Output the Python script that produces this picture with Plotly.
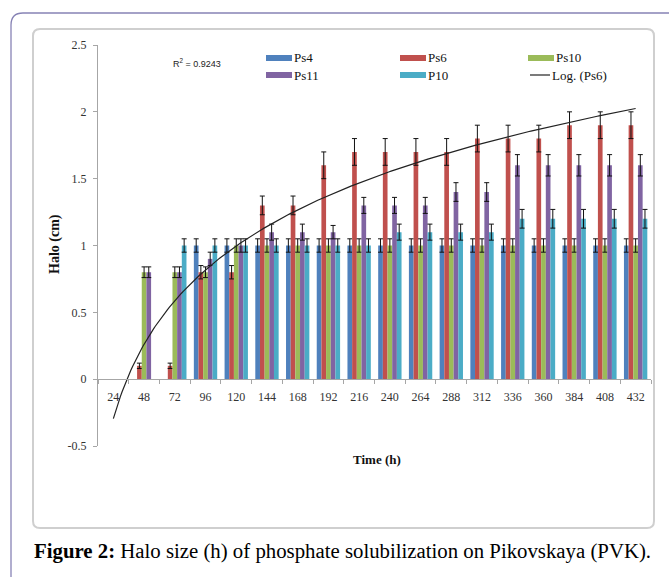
import numpy as np
import plotly.graph_objects as go

# ---------------- data ----------------
times = [24, 48, 72, 96, 120, 144, 168, 192, 216, 240, 264, 288, 312, 336, 360, 384, 408, 432]
ps4 = [0, 0, 0, 1.0, 1.0, 1.0, 1.0, 1.0, 1.0, 1.0, 1.0, 1.0, 1.0, 1.0, 1.0, 1.0, 1.0, 1.0]
ps6 = [0, 0.1, 0.1, 0.8, 0.8, 1.3, 1.3, 1.6, 1.7, 1.7, 1.7, 1.7, 1.8, 1.8, 1.8, 1.9, 1.9, 1.9]
ps10 = [0, 0.8, 0.8, 0.8, 1.0, 1.0, 1.0, 1.0, 1.0, 1.0, 1.0, 1.0, 1.0, 1.0, 1.0, 1.0, 1.0, 1.0]
ps11 = [0, 0.8, 0.8, 0.9, 1.0, 1.1, 1.1, 1.1, 1.3, 1.3, 1.3, 1.4, 1.4, 1.6, 1.6, 1.6, 1.6, 1.6]
p10 = [0, 0, 1.0, 1.0, 1.0, 1.0, 1.0, 1.0, 1.0, 1.1, 1.1, 1.1, 1.1, 1.2, 1.2, 1.2, 1.2, 1.2]

ps4_err = [0, 0, 0, 0.05, 0.05, 0.05, 0.05, 0.05, 0.05, 0.05, 0.05, 0.05, 0.05, 0.05, 0.05, 0.05, 0.05, 0.05]
ps6_err = [0, 0.02, 0.02, 0.05, 0.05, 0.07, 0.07, 0.1, 0.1, 0.1, 0.1, 0.1, 0.1, 0.1, 0.1, 0.1, 0.1, 0.1]
ps10_err = [0, 0.04, 0.04, 0.04, 0.05, 0.05, 0.05, 0.05, 0.05, 0.05, 0.05, 0.05, 0.05, 0.05, 0.05, 0.05, 0.05, 0.05]
ps11_err = [0, 0.04, 0.04, 0.05, 0.05, 0.06, 0.06, 0.05, 0.06, 0.06, 0.06, 0.07, 0.07, 0.08, 0.08, 0.08, 0.08, 0.08]
p10_err = [0, 0, 0.05, 0.05, 0.05, 0.05, 0.05, 0.05, 0.05, 0.06, 0.06, 0.06, 0.06, 0.07, 0.07, 0.07, 0.07, 0.07]

series_names = ["Ps4", "Ps6", "Ps10", "Ps11", "P10"]
series_vals = [ps4, ps6, ps10, ps11, p10]
series_errs = [ps4_err, ps6_err, ps10_err, ps11_err, p10_err]
colors = ["#4F81BD", "#C0504D", "#9BBB59", "#8064A2", "#4BACC6"]
trend_name = "Log. (Ps6)"
r2_text = "R<sup>2</sup> = 0.9243"
y_ticks = [-0.5, 0, 0.5, 1, 1.5, 2, 2.5]
y_ticktext = ["-0.5", "0", "0.5", "1", "1.5", "2", "2.5"]

# ---------------- geometry helpers (layout only) ----------------
W, H = 669, 577
L, R, T, B = 98, 651, 45, 446


def px(x):
    return (x - L) / (R - L)


def py(y):
    return (B - y) / (B - T)


def P(x, y):
    return f"{px(x):.5f},{py(y):.5f}"


serif = "Liberation Serif"
idx = np.arange(len(times))

fig = go.Figure()
for name, vals, errs, c in zip(series_names, series_vals, series_errs, colors):
    # zero-height bars are left out so that no error cap is drawn on the axis
    yv = [v if v > 0 else None for v in vals]
    fig.add_trace(go.Bar(
        x=idx, y=yv, name=name, marker=dict(color=c, line=dict(width=0)),
        error_y=dict(type="data", array=errs, visible=True, color="#111111",
                     thickness=1, width=2.5),
        showlegend=False, hoverinfo="skip"))

# logarithmic trendline fitted to Ps6 (as Excel does)
t_num = np.arange(1, len(times) + 1)
a, b = np.polyfit(np.log(t_num), np.array(ps6), 1)
xs = np.linspace(1, len(times), 300)
fig.add_trace(go.Scatter(x=xs - 1, y=a * np.log(xs) + b, mode="lines",
                         name=trend_name, line=dict(color="#222222", width=1.2),
                         showlegend=False, hoverinfo="skip"))

# ---------------- frames ----------------
r = 7
x0, y0, x1, y1 = 33, 29, 654, 528
frame = (f"M {P(x0 + r, y0)} L {P(x1 - r, y0)} Q {P(x1, y0)} {P(x1, y0 + r)} "
         f"L {P(x1, y1 - r)} Q {P(x1, y1)} {P(x1 - r, y1)} L {P(x0 + r, y1)} "
         f"Q {P(x0, y1)} {P(x0, y1 - r)} L {P(x0, y0 + r)} Q {P(x0, y0)} {P(x0 + r, y0)} Z")
outer = f"M {P(11, 600)} L {P(11, 25)} Q {P(11, 13)} {P(23, 13)} L {P(700, 13)}"

shapes = [
    dict(type="path", xref="paper", yref="paper", path=frame,
         line=dict(color="#CFCFCF", width=2), layer="below"),
    dict(type="path", xref="paper", yref="paper", path=outer,
         line=dict(color="#8783B5", width=1.3), layer="below"),
]

# ---------------- legend (3 columns x 2 rows) ----------------
col_x = [266, 400, 528]
row_y = [58, 75]
legend_font = dict(family=serif, size=13, color="#111111")
annotations = []
entries = list(zip(series_names, colors)) + [(trend_name, None)]
for k, (name, c) in enumerate(entries):
    cx = col_x[k % 3]
    ry = row_y[k // 3]
    if c is not None:
        shapes.append(dict(type="rect", xref="paper", yref="paper",
                           x0=px(cx), x1=px(cx + 26), y0=py(ry + 3), y1=py(ry - 3),
                           fillcolor=c, line=dict(width=0)))
        tx = cx + 27
    else:
        shapes.append(dict(type="line", xref="paper", yref="paper",
                           x0=px(cx + 2), x1=px(cx + 22), y0=py(ry), y1=py(ry),
                           line=dict(color="#222222", width=1.2)))
        tx = cx + 23
    annotations.append(dict(text=name, x=px(tx), y=py(ry), xref="paper", yref="paper",
                            xanchor="left", yanchor="middle", showarrow=False,
                            font=legend_font, borderpad=0))

annotations += [
    dict(text=r2_text, x=px(171), y=py(63), xref="paper", yref="paper",
         xanchor="left", yanchor="middle", showarrow=False,
         font=dict(family="Liberation Sans", size=9, color="#222222")),
    dict(text="<b>Halo (cm)</b>", x=px(55), y=py(244), xref="paper", yref="paper",
         textangle=-90, showarrow=False, xanchor="center", yanchor="middle",
         font=dict(family=serif, size=14, color="#111111")),
    dict(text="<b>Time (h)</b>", x=px(377), y=py(459), xref="paper", yref="paper",
         showarrow=False, xanchor="center", yanchor="middle",
         font=dict(family=serif, size=13, color="#111111")),
    dict(text="<b>Figure 2:</b> Halo size (h) of phosphate solubilization on Pikovskaya (PVK).",
         x=px(33), y=py(551), xref="paper", yref="paper", showarrow=False,
         xanchor="left", yanchor="middle", borderpad=0,
         font=dict(family=serif, size=20.8, color="#000000")),
]

fig.update_layout(
    width=W, height=H,
    margin=dict(l=L, r=W - R, t=T, b=H - B, pad=0),
    paper_bgcolor="white", plot_bgcolor="white",
    barmode="group", bargap=0.24, bargroupgap=0,
    font=dict(family=serif, color="#222222"),
    showlegend=False,
    xaxis=dict(range=[-0.5, len(times) - 0.5], tickmode="array", tickvals=list(idx),
               ticktext=[str(t) for t in times], ticks="", showgrid=False, zeroline=False,
               showline=True, linecolor="#A6A6A6", linewidth=1,
               anchor="free", position=0.5 / 3.0, ticklabelstandoff=6,
               tickfont=dict(size=12, family=serif, color="#333333"),
               minor=dict(tickmode="array", tickvals=[i - 0.5 for i in range(len(times) + 1)],
                          ticks="outside", ticklen=4, tickcolor="#A6A6A6", showgrid=False)),
    yaxis=dict(range=[-0.5, 2.5], tickmode="array", tickvals=y_ticks, ticktext=y_ticktext,
               ticks="outside", ticklen=4, tickcolor="#A6A6A6", showgrid=False, zeroline=False,
               showline=True, linecolor="#A6A6A6", linewidth=1, domain=[0, 1],
               ticklabelstandoff=4,
               tickfont=dict(size=12, family=serif, color="#333333")),
    shapes=shapes,
    annotations=annotations,
)

fig.write_html("out.html", config={"displayModeBar": False},
               post_script="document.body.style.margin='0';document.body.style.overflow='hidden';")
